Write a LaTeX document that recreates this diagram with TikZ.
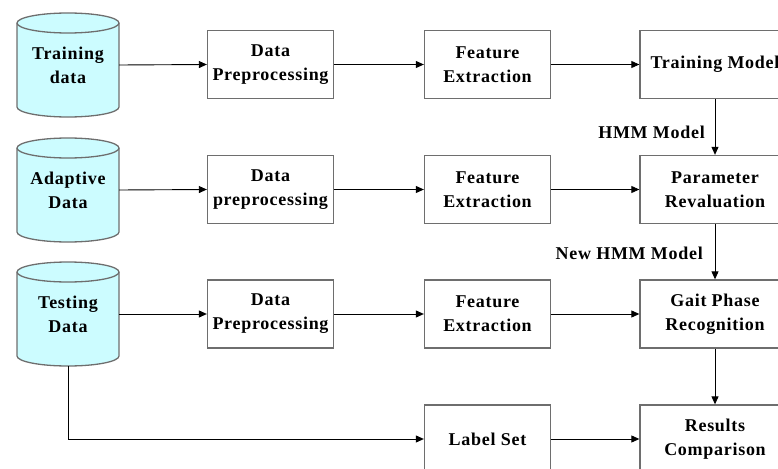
\documentclass[tikz,border=0pt]{standalone}
\usepackage{fontspec}
\setmainfont{Liberation Serif}[
  UprightFont=*,
  BoldFont=* Bold,
  LetterSpace=4]
\usetikzlibrary{arrows.meta}

\definecolor{boxline}{HTML}{6E6E6E}
\definecolor{dbfill}{HTML}{CCFCFF}

\tikzset{
  stage/.style={draw=boxline, line width=1.3pt, fill=white, rectangle,
    minimum width=126pt, minimum height=68pt, align=center,
    font=\fontsize{18}{24}\selectfont\bfseries},
  widestage/.style={stage, minimum width=150pt},
  dbnode/.style={rectangle, draw=none, minimum width=102pt, minimum height=104pt,
    align=center, font=\fontsize{18}{24}\selectfont\bfseries},
  flow/.style={draw=black, line width=0.9pt, -{Triangle[length=8pt,width=7pt]}},
  edgelabel/.style={font=\fontsize{18}{24}\selectfont\bfseries, anchor=east, inner sep=0pt}
}

% database cylinder centred at (#1,#2)
\newcommand{\dbdraw}[2]{%
  \path[fill=dbfill, draw=boxline, line width=1.3pt]
    (#1-51,#2-42) -- (#1-51,#2+42)
    arc[start angle=180, end angle=360, x radius=51pt, y radius=10pt]
    -- (#1+51,#2-42)
    arc[start angle=0, end angle=180, x radius=51pt, y radius=10pt] -- cycle;
  \draw[boxline, line width=1.3pt] (#1-51,#2-42)
    arc[start angle=180, end angle=360, x radius=51pt, y radius=10pt];
}

\begin{document}
\begin{tikzpicture}[x=1pt, y=-1pt]
  \useasboundingbox (0,0) rectangle (778,468);
  \clip (0,0) rectangle (778,468);

  % data sources
  \dbdraw{68}{65}
  \dbdraw{68}{190}
  \dbdraw{68}{314}
  \node[dbnode] (train) at (68,65) {Training\\data};
  \node[dbnode] (adapt) at (68,190) {Adaptive\\Data};
  \node[dbnode] (test)  at (68,314) {Testing\\Data};

  % processing stages
  \node[stage] (pre1) at (270.5,64.5) {Data\\Preprocessing};
  \node[stage] (pre2) at (270.5,189.5) {Data\\preprocessing};
  \node[stage] (pre3) at (270.5,314) {Data\\Preprocessing};

  \node[stage] (fe1) at (487.5,64.5) {Feature\\Extraction};
  \node[stage] (fe2) at (487.5,189.5) {Feature\\Extraction};
  \node[stage] (fe3) at (487.5,314) {Feature\\Extraction};
  \node[stage] (lab) at (487.5,439) {Label Set};

  \node[widestage] (tm)  at (715,64.5) {Training Model};
  \node[widestage] (pr)  at (715,189.5) {Parameter\\Revaluation};
  \node[widestage] (gpr) at (715,314) {Gait Phase\\Recognition};
  \node[widestage] (rc)  at (715,439) {Results\\Comparison};

  % horizontal flow
  \draw[flow] (train.east) -- (pre1.west);
  \draw[flow] (pre1.east) -- (fe1.west);
  \draw[flow] (fe1.east) -- (tm.west);

  \draw[flow] (adapt.east) -- (pre2.west);
  \draw[flow] (pre2.east) -- (fe2.west);
  \draw[flow] (fe2.east) -- (pr.west);

  \draw[flow] (test.east) -- (pre3.west);
  \draw[flow] (pre3.east) -- (fe3.west);
  \draw[flow] (fe3.east) -- (gpr.west);

  \draw[flow] (test.south) |- (lab.west);
  \draw[flow] (lab.east) -- (rc.west);

  % vertical flow
  \draw[flow] (tm.south) -- (pr.north);
  \draw[flow] (pr.south) -- (gpr.north);
  \draw[flow] (gpr.south) -- (rc.north);

  \node[edgelabel] (hmm) at (705,132) {HMM Model};
  \node[edgelabel] (nhmm) at (703,253) {New HMM Model};
\end{tikzpicture}
\end{document}
